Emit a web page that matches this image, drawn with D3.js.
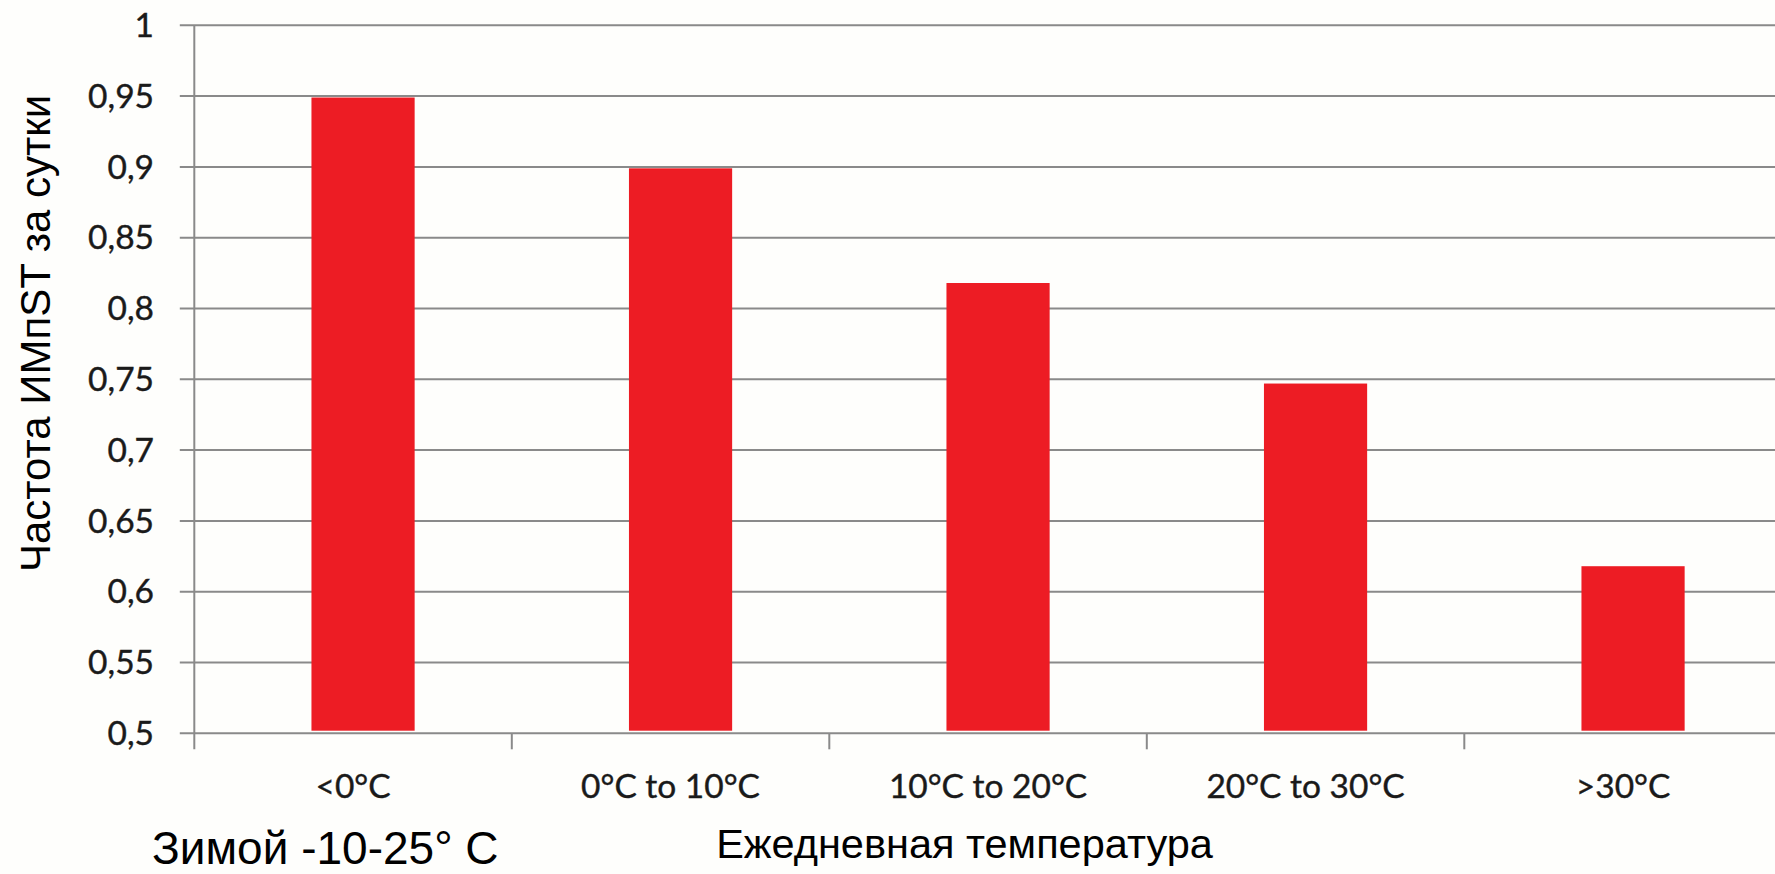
<!DOCTYPE html>
<html>
<head>
<meta charset="utf-8">
<script src="https://cdn.jsdelivr.net/npm/d3@7/dist/d3.min.js"></script>
<style>
  html, body { margin: 0; padding: 0; background: #fefefc; }
  svg { display: block; }
</style>
</head>
<body>
<svg id="chart" width="1775" height="874"></svg>
<script>
// Temperature bands and daily STEMI frequency per band
const categories = ["<0°C", "0°C to 10°C", "10°C to 20°C", "20°C to 30°C", ">30°C"];
const values = [0.949, 0.899, 0.818, 0.747, 0.618];
const yTicks = [0.5, 0.55, 0.6, 0.65, 0.7, 0.75, 0.8, 0.85, 0.9, 0.95, 1];

const yTitle = "Частота ИМпST за сутки";
const xTitle = "Ежедневная температура";
const note = "Зимой -10-25° C";

const W = 1775, H = 874;
const plot = { left: 194.3, top: 25.3, bottom: 733.3, right: 1781.8 };
const gridColor = "#8a8a8a";
const tickFont = "Lato, 'Open Sans', sans-serif";
const titleFont = "'Liberation Sans', Arial, sans-serif";
const tickInk = "#1a1a1a";

const svg = d3.select("#chart");
svg.append("rect").attr("width", W).attr("height", H).attr("fill", "#fefefc");

const x = d3.scaleBand().domain(categories).range([plot.left, plot.right]).padding(0);
const y = d3.scaleLinear().domain([0.5, 1]).range([plot.bottom, plot.top]);

const fmt = v => String(+v.toFixed(2)).replace(".", ",");

// horizontal gridlines (with short outer ticks on the left)
svg.append("g").selectAll("line").data(yTicks).join("line")
  .attr("x1", plot.left - 14.5).attr("x2", W)
  .attr("y1", d => y(d)).attr("y2", d => y(d))
  .attr("stroke", gridColor).attr("stroke-width", 2);

// y tick labels
svg.append("g").selectAll("text").data(yTicks).join("text")
  .attr("x", 154).attr("y", d => y(d))
  .attr("dy", "0.35em")
  .attr("text-anchor", "end")
  .attr("font-family", tickFont).attr("font-size", 33.5)
  .attr("fill", tickInk).attr("stroke", tickInk).attr("stroke-width", 0.4)
  .text(fmt);

// bars
const barW = x.bandwidth() * 0.325;
const shift = 10;
svg.append("g").selectAll("rect").data(values).join("rect")
  .attr("x", (d, i) => x(categories[i]) + (x.bandwidth() - barW) / 2 + shift)
  .attr("width", barW)
  .attr("y", d => y(d))
  .attr("height", d => y(0.5) - y(d) - 2.6)
  .attr("fill", "#ed1c24");

// y axis line, running past the baseline like a tick
svg.append("line")
  .attr("x1", plot.left).attr("x2", plot.left)
  .attr("y1", plot.top).attr("y2", plot.bottom + 16)
  .attr("stroke", gridColor).attr("stroke-width", 2);

// category separator ticks below the baseline
svg.append("g").selectAll("line").data(categories.slice(1)).join("line")
  .attr("x1", d => x(d)).attr("x2", d => x(d))
  .attr("y1", plot.bottom).attr("y2", plot.bottom + 16)
  .attr("stroke", gridColor).attr("stroke-width", 2);

// category labels
svg.append("g").selectAll("text").data(categories).join("text")
  .attr("x", d => x(d) + x.bandwidth() / 2)
  .attr("y", 798)
  .attr("text-anchor", "middle")
  .attr("font-family", tickFont).attr("font-size", 33.5)
  .attr("fill", tickInk).attr("stroke", tickInk).attr("stroke-width", 0.4)
  .text(d => d);

// axis titles
svg.append("text")
  .attr("transform", "translate(50,333.5) rotate(-90)")
  .attr("text-anchor", "middle")
  .attr("font-family", titleFont).attr("font-size", 42)
  .attr("fill", "#000")
  .text(yTitle);

svg.append("text")
  .attr("x", 964.5).attr("y", 858)
  .attr("text-anchor", "middle")
  .attr("font-family", titleFont).attr("font-size", 41.5)
  .attr("fill", "#000")
  .text(xTitle);

svg.append("text")
  .attr("x", 152).attr("y", 864)
  .attr("font-family", titleFont).attr("font-size", 46)
  .attr("fill", "#000")
  .text(note);
</script>
</body>
</html>
